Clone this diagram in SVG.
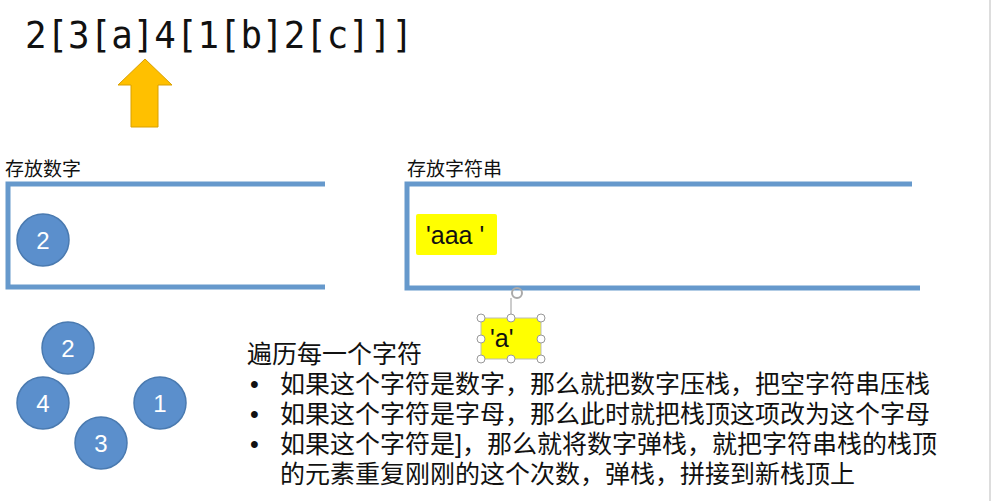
<svg xmlns="http://www.w3.org/2000/svg" width="994" height="501" viewBox="0 0 994 501">
<style>
.box{fill:none;stroke:#6699cc;stroke-width:5}
.c{fill:#5b8fcc;stroke:#4a7ab0;stroke-width:1.5}
.cn{font-family:"Liberation Sans",Arial,sans-serif;font-size:24px;fill:#fff;text-anchor:middle}
.lbl{font-family:"Liberation Sans","Noto Sans CJK SC",sans-serif;font-size:19px;fill:#111}
.t{font-family:"Liberation Sans","Noto Sans CJK SC",sans-serif;font-size:25px;fill:#111}
.y{font-family:"Liberation Sans",Arial,sans-serif;font-size:25px;fill:#111}
.h{fill:#fff;stroke:#999;stroke-width:1}
</style>
<rect width="994" height="501" fill="#fff"/>
<line x1="990" y1="0" x2="990" y2="501" stroke="#ddd" stroke-width="2"/>
<text x="25" y="48" font-family="DejaVu Sans Mono,monospace" font-size="37" fill="#111" textLength="388" lengthAdjust="spacingAndGlyphs">2[3[a]4[1[b]2[c]]]</text>
<polygon id="pointer" points="145,59 172,85 158,85 158,127 131,127 131,85 118,85" fill="#ffc000" stroke="#d9a000" stroke-width="1"/>
<g id="numStack">
<text class="lbl" x="5" y="176">存放数字</text>
<path class="box" d="M325,184 H8 V287 H325"/>
</g>
<g id="strStack">
<text class="lbl" x="407" y="176">存放字符串</text>
<path class="box" d="M912,184 H407 V288 H920"/>
</g>
<g id="n2top"><circle class="c" cx="43" cy="240" r="26"/><text class="cn" x="43" y="249">2</text></g>
<g id="saaa"><rect x="416" y="214" width="81" height="41" rx="2" fill="#ffff00"/><text class="y" x="426" y="244">'aaa '</text></g>
<g id="sa">
<line x1="511" y1="298" x2="511" y2="318" stroke="#999"/>
<circle cx="517" cy="293" r="5" fill="none" stroke="#aaa" stroke-width="2"/>
<rect x="481" y="318" width="60" height="41" fill="#ffff00" stroke="#bbb"/>
<text class="y" x="490" y="347">'a'</text>
<circle class="h" cx="481" cy="318" r="4"/><circle class="h" cx="511" cy="318" r="4"/><circle class="h" cx="541" cy="318" r="4"/>
<circle class="h" cx="481" cy="339" r="4"/><circle class="h" cx="541" cy="339" r="4"/>
<circle class="h" cx="481" cy="359" r="4"/><circle class="h" cx="511" cy="359" r="4"/><circle class="h" cx="541" cy="359" r="4"/>
</g>
<g id="n2"><circle class="c" cx="68" cy="348" r="26"/><text class="cn" x="68" y="357">2</text></g>
<g id="n4"><circle class="c" cx="43" cy="403" r="26"/><text class="cn" x="43" y="412">4</text></g>
<g id="n1"><circle class="c" cx="160" cy="403" r="26"/><text class="cn" x="160" y="412">1</text></g>
<g id="n3"><circle class="c" cx="101" cy="443" r="26"/><text class="cn" x="101" y="452">3</text></g>
<g id="connectors"/>
<g id="notes">
<text class="t" x="247" y="363">遍历每一个字符</text>
<text class="t" x="250" y="393">•</text><text class="t" x="280" y="393">如果这个字符是数字，那么就把数字压栈，把空字符串压栈</text>
<text class="t" x="250" y="423">•</text><text class="t" x="280" y="423">如果这个字符是字母，那么此时就把栈顶这项改为这个字母</text>
<text class="t" x="250" y="453">•</text><text class="t" x="280" y="453">如果这个字符是]，那么就将数字弹栈，就把字符串栈的栈顶</text>
<text class="t" x="280" y="483">的元素重复刚刚的这个次数，弹栈，拼接到新栈顶上</text>
</g>
</svg>
